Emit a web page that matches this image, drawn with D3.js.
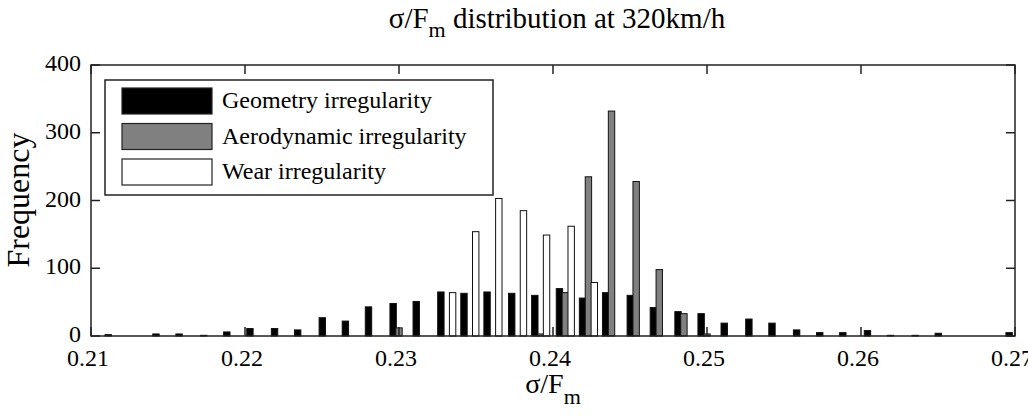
<!DOCTYPE html>
<html>
<head>
<meta charset="utf-8">
<script src="https://cdn.jsdelivr.net/npm/d3@7"></script>
<style>
    body { margin: 0; background: #fff; }
</style>
</head>
<body>
<div class="plot-container"></div>
<script>
// bin centres (sigma/Fm)
const binCenters = [
    0.2115, 0.2130, 0.2146, 0.2161, 0.2177, 0.2192, 0.2207, 0.2223, 0.2238, 0.2254,
    0.2269, 0.2284, 0.2300, 0.2315, 0.2331, 0.2346, 0.2361, 0.2377, 0.2392, 0.2408,
    0.2423, 0.2438, 0.2454, 0.2469, 0.2485, 0.2500, 0.2515, 0.2531, 0.2546, 0.2562,
    0.2577, 0.2592, 0.2608, 0.2623, 0.2639, 0.2654, 0.2669, 0.2685, 0.2700
];

const geometry = [
    2, 0, 3, 3, 1, 6, 11, 11, 9, 27,
    22, 43, 48, 51, 65, 63, 65, 63, 60, 70,
    56, 64, 60, 42, 36, 33, 19, 25, 19, 9,
    5, 5, 8, 1, 1, 4, 0, 0, 5
];

const aerodynamic = [
    0, 0, 0, 0, 0, 0, 0, 0, 0, 0,
    0, 0, 12, 0, 0, 0, 0, 0, 3, 64,
    235, 332, 228, 98, 33, 3, 0, 0, 0, 0,
    0, 0, 0, 0, 0, 0, 0, 0, 0
];

const wear = [
    0, 0, 0, 0, 0, 0, 0, 0, 0, 0,
    0, 0, 0, 0, 64, 154, 203, 185, 149, 162,
    79, 0, 0, 0, 0, 0, 0, 0, 0, 0,
    0, 0, 0, 0, 0, 0, 0, 0, 0
];

const seriesNames = ["Geometry irregularity", "Aerodynamic irregularity", "Wear irregularity"];
const seriesColors = ["#000000", "#808080", "#ffffff"];

const xTicks = [0.21, 0.22, 0.23, 0.24, 0.25, 0.26, 0.27];
const yTicks = [0, 100, 200, 300, 400];

const width = 1028, height = 419;
const margin = { top: 65, right: 13, bottom: 83, left: 91 };
const serif = "Liberation Serif";

const svg = d3.select(".plot-container").append("svg")
    .attr("width", width)
    .attr("height", height)
    .style("display", "block");

const xScale = d3.scaleLinear()
    .domain([0.21, 0.27])
    .range([margin.left, width - margin.right]);

const yScale = d3.scaleLinear()
    .domain([0, 400])
    .range([height - margin.bottom, margin.top]);

// offsets of the three series inside one group (px)
const offset = d3.scaleBand()
    .domain(seriesNames)
    .range([-8.8, 8.8]);
const barWidth = 6.4;

const allSeries = [geometry, aerodynamic, wear];

allSeries.forEach((values, s) => {
    const name = seriesNames[s];
    svg.append("g")
        .selectAll("rect")
        .data(values.map((v, i) => ({ x: binCenters[i], v: v })).filter(d => d.v > 0))
        .enter().append("rect")
        .attr("x", d => xScale(d.x) + offset(name) + offset.bandwidth() / 2 - barWidth / 2)
        .attr("y", d => yScale(d.v))
        .attr("width", barWidth)
        .attr("height", d => yScale(0) - yScale(d.v))
        .style("fill", seriesColors[s])
        .style("stroke", "#111")
        .style("stroke-width", 1);
});

// axes, ticks inside on all four sides
const x0 = xScale.range()[0], x1 = xScale.range()[1];
const y0 = yScale.range()[0], y1 = yScale.range()[1];
const tickLen = 9;

const axisG = svg.append("g").style("stroke", "#222").style("stroke-width", 1.5);

axisG.append("rect")
    .attr("x", x0).attr("y", y1)
    .attr("width", x1 - x0).attr("height", y0 - y1)
    .style("fill", "none");

xTicks.forEach(t => {
    axisG.append("line").attr("x1", xScale(t)).attr("x2", xScale(t)).attr("y1", y0).attr("y2", y0 - tickLen);
    axisG.append("line").attr("x1", xScale(t)).attr("x2", xScale(t)).attr("y1", y1).attr("y2", y1 + tickLen);
});
yTicks.forEach(t => {
    axisG.append("line").attr("x1", x0).attr("x2", x0 + tickLen).attr("y1", yScale(t)).attr("y2", yScale(t));
    axisG.append("line").attr("x1", x1).attr("x2", x1 - tickLen).attr("y1", yScale(t)).attr("y2", yScale(t));
});

// tick labels
svg.append("g").selectAll("text")
    .data(xTicks)
    .enter().append("text")
    .attr("x", d => xScale(d) - 3)
    .attr("y", 366)
    .attr("text-anchor", "middle")
    .attr("font-family", serif)
    .attr("font-size", 24)
    .text(d => d3.format(".2f")(d));

svg.append("g").selectAll("text")
    .data(yTicks)
    .enter().append("text")
    .attr("x", 81)
    .attr("y", d => yScale(d) + 6)
    .attr("text-anchor", "end")
    .attr("font-family", serif)
    .attr("font-size", 24)
    .text(d => d);

// title
const title = svg.append("text")
    .attr("x", 557)
    .attr("y", 28)
    .attr("text-anchor", "middle")
    .attr("font-family", serif)
    .attr("font-size", 29);
title.append("tspan").text("σ/F");
title.append("tspan").attr("dy", 9).attr("font-size", 22).text("m");
title.append("tspan").attr("dy", -9).text(" distribution at 320km/h");

// x label
const xLabel = svg.append("text")
    .attr("x", 553)
    .attr("y", 393)
    .attr("text-anchor", "middle")
    .attr("font-family", serif)
    .attr("font-size", 28);
xLabel.append("tspan").text("σ/F");
xLabel.append("tspan").attr("dy", 11).attr("font-size", 22).text("m");

// y label
svg.append("text")
    .attr("transform", "translate(29,200) rotate(-90)")
    .attr("text-anchor", "middle")
    .attr("font-family", serif)
    .attr("font-size", 32)
    .text("Frequency");

// legend
const legend = svg.append("g");
legend.append("rect")
    .attr("x", 105).attr("y", 80)
    .attr("width", 388).attr("height", 115)
    .style("fill", "#fff")
    .style("stroke", "#222")
    .style("stroke-width", 1.5);

seriesNames.forEach((name, i) => {
    const rowY = 88 + i * 35.5;
    legend.append("rect")
        .attr("x", 122).attr("y", rowY)
        .attr("width", 90).attr("height", 26)
        .style("fill", seriesColors[i])
        .style("stroke", "#222")
        .style("stroke-width", 1.2);
    legend.append("text")
        .attr("x", 222).attr("y", rowY + 20)
        .attr("font-family", serif)
        .attr("font-size", 24)
        .text(name);
});
</script>
</body>
</html>
